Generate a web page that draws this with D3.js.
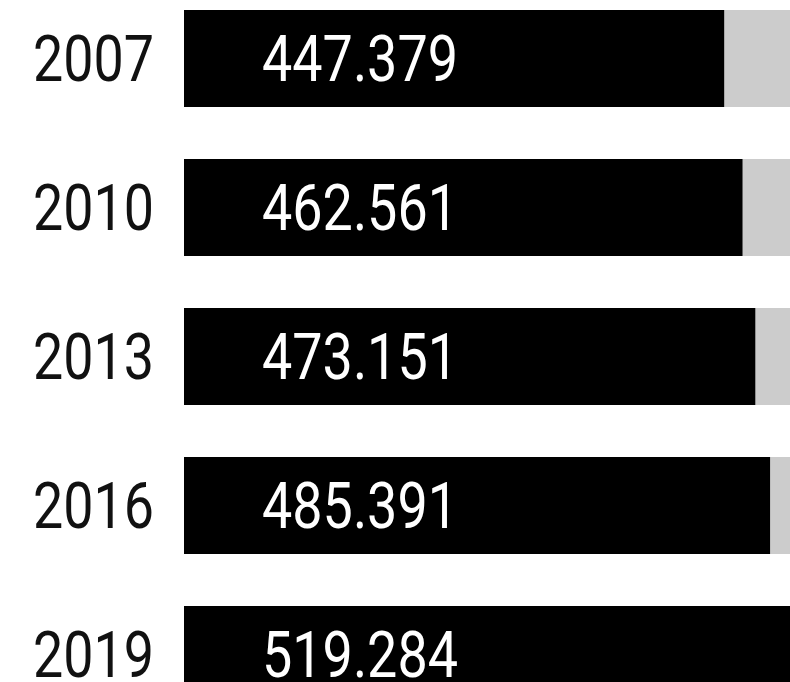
<!DOCTYPE html>
<html>
<head>
<meta charset="utf-8">
<script src="https://cdn.jsdelivr.net/npm/d3@7"></script>
<style>
  html, body { margin: 0; padding: 0; background: #fff; overflow: hidden; }
  .year { font-family: Roboto, "DejaVu Sans Condensed", sans-serif; font-size: 65px; fill: #111; }
  .val { font-family: Roboto, "DejaVu Sans Condensed", sans-serif; font-size: 65px; fill: #fff; }
</style>
</head>
<body>
<div id="chart"></div>
<script>
// data
var years = ["2007", "2010", "2013", "2016", "2019"];
var values = [447.379, 462.561, 473.151, 485.391, 519.284];
var labels = ["447.379", "462.561", "473.151", "485.391", "519.284"];
var trackMax = 519.284;

var width = 790, height = 682;
var margin_left = 184;

var svg = d3.select("#chart")
            .append("svg")
            .attr("width", width)
            .attr("height", height);

// scales
var x = d3.scaleLinear()
          .domain([0, 519.284])
          .range([margin_left, margin_left + 627]);

var y = d3.scaleBand()
          .domain(years)
          .range([10, 703])
          .paddingInner(52 / 149);

var rows = svg.selectAll("g.row")
              .data(years)
              .enter()
              .append("g")
              .attr("class", "row");

// grey track
rows.append("rect")
    .attr("x", x(0))
    .attr("y", function(d) { return y(d); })
    .attr("width", x(trackMax) - x(0))
    .attr("height", y.bandwidth())
    .attr("fill", "#cccccc");

// black bars
rows.append("rect")
    .attr("x", x(0))
    .attr("y", function(d) { return y(d); })
    .attr("width", function(d, i) { return x(values[i]) - x(0); })
    .attr("height", y.bandwidth())
    .attr("fill", "#000");

// year labels (condensed look via textLength)
rows.append("text")
    .attr("class", "year")
    .attr("x", x(0) - 30)
    .attr("y", function(d) { return y(d) + y.bandwidth() / 2 + 22; })
    .attr("text-anchor", "end")
    .attr("textLength", 121)
    .attr("lengthAdjust", "spacingAndGlyphs")
    .text(function(d) { return d; });

// value labels
rows.append("text")
    .attr("class", "val")
    .attr("x", x(0) + 176)
    .attr("y", function(d) { return y(d) + y.bandwidth() / 2 + 22; })
    .attr("text-anchor", "middle")
    .attr("textLength", 196)
    .attr("lengthAdjust", "spacingAndGlyphs")
    .text(function(d, i) { return labels[i]; });
</script>
</body>
</html>
